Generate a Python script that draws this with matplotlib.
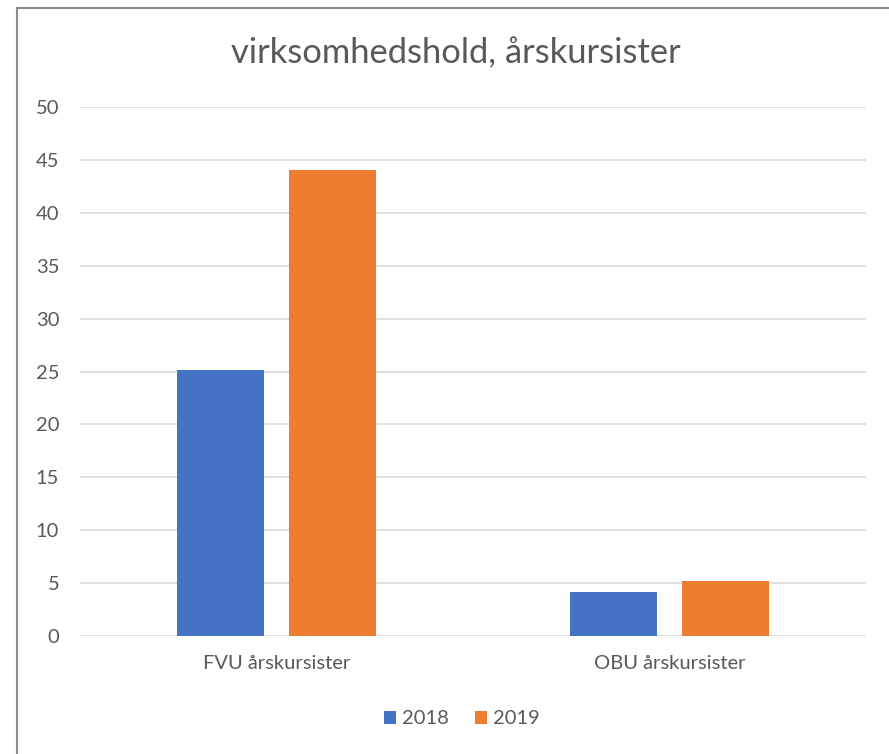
import matplotlib.pyplot as plt
from matplotlib.patches import Rectangle
import numpy as np

categories = ["FVU årskursister", "OBU årskursister"]
years = ["2018", "2019"]
values_2018 = [25.1, 4.2]
values_2019 = [44.0, 5.2]
yticks = [0, 5, 10, 15, 20, 25, 30, 35, 40, 45, 50]

plt.rcParams['font.family'] = ['Lato', 'DejaVu Sans']
txt = '#595959'

fig = plt.figure(figsize=(8.89, 7.54), dpi=100)
W, H = 889, 754
ax = fig.add_axes([80 / W, 1 - 636 / H, 786 / W, (636 - 107) / H])

x = np.arange(len(categories))
w = 0.222
ax.bar(x - 0.142, values_2018, w, color='#4472C4', label=years[0], zorder=3)
ax.bar(x + 0.142, values_2019, w, color='#ED7D31', label=years[1], zorder=3)

ax.set_xlim(-0.5, 1.5)
ax.set_ylim(0, 50)
ax.set_yticks(yticks)
ax.set_xticks(x)
ax.set_xticklabels(categories)
ax.tick_params(axis='both', length=0, labelsize=14.5, colors=txt)
ax.tick_params(axis='x', pad=14)
ax.tick_params(axis='y', pad=15)
ax.grid(axis='y', color='#d9d9d9', linewidth=1.2, zorder=0)
for s in ax.spines.values():
    s.set_visible(False)

fig.text(456 / W, 1 - 53 / H, "virksomhedshold, årskursister", ha='center', va='center',
         fontsize=24.8, color=txt)

leg = fig.legend(loc='center', bbox_to_anchor=(462 / W, 1 - 719 / H), ncol=2, frameon=False,
                 fontsize=14.5, handlelength=0.6, handleheight=0.6, handletextpad=0.3,
                 columnspacing=1.3)
for t in leg.get_texts():
    t.set_color(txt)

fig.patches.append(Rectangle((17 / W, -0.1), 1.2, 1 - 8 / H + 0.1, transform=fig.transFigure,
                             fill=False, edgecolor='#8c8c8c', linewidth=1.5))

fig.savefig('out.png', dpi=100)
